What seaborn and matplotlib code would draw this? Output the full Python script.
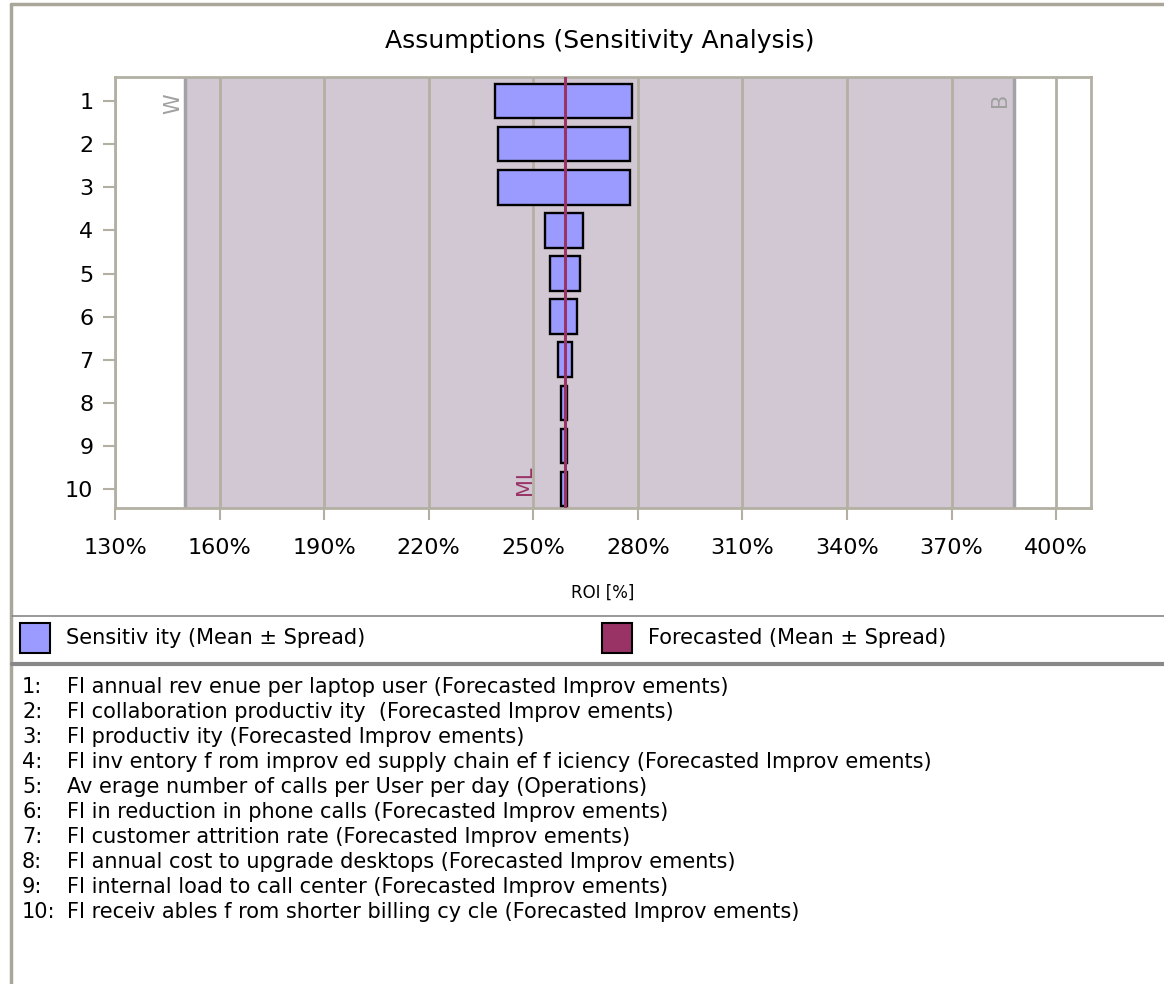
import numpy as np
import pandas as pd
import seaborn as sns
from matplotlib import pyplot as plt
from matplotlib.patches import Rectangle
from matplotlib.lines import Line2D

# sensitivity ranges (ROI %)
ranks = ['1', '2', '3', '4', '5', '6', '7', '8', '9', '10']
sens_low = [239.0, 240.0, 240.0, 253.4, 254.8, 254.8, 257.0, 257.9, 257.9, 257.9]
sens_high = [278.3, 277.7, 277.7, 264.2, 263.4, 262.6, 261.1, 259.8, 259.8, 259.8]
forecast_ml = 259.1
worst_case = 150.1
best_case = 388.0
x_ticks = [130, 160, 190, 220, 250, 280, 310, 340, 370, 400]

assumption_names = [
    'FI annual rev enue per laptop user (Forecasted Improv ements)',
    'FI collaboration productiv ity  (Forecasted Improv ements)',
    'FI productiv ity (Forecasted Improv ements)',
    'FI inv entory f rom improv ed supply chain ef f iciency (Forecasted Improv ements)',
    'Av erage number of calls per User per day (Operations)',
    'FI in reduction in phone calls (Forecasted Improv ements)',
    'FI customer attrition rate (Forecasted Improv ements)',
    'FI annual cost to upgrade desktops (Forecasted Improv ements)',
    'FI internal load to call center (Forecasted Improv ements)',
    'FI receiv ables f rom shorter billing cy cle (Forecasted Improv ements)',
]

bar_color = '#9b9bff'
ml_color = '#993366'
region_color = '#d2c8d3'
grid_color = '#b3b0a3'
case_color = '#a2a2aa'
frame_color = '#aaa79a'

df = pd.DataFrame({'rank': ranks, 'low': sens_low, 'high': sens_high})
df['spread'] = df['high'] - df['low']

sns.set_theme(style='white')
plt.rcParams['font.family'] = ['DejaVu Sans']
plt.rcParams['text.color'] = 'black'

W, H = 1164, 984
fig = plt.figure(figsize=(W / 100, H / 100), dpi=100)
ax = fig.add_axes([115 / W, 1 - 508 / H, 976 / W, 431 / H])

# shaded worst..best band and its edges
ax.axvspan(worst_case, best_case, color=region_color, lw=0, zorder=0)
ax.axvline(worst_case, color=case_color, lw=2.5, zorder=1.5)
ax.axvline(best_case, color=case_color, lw=2.5, zorder=1.5)

# floating bars: seaborn hands 'left' through to barh
sns.barplot(data=df, x='spread', y='rank', orient='h', left=df['low'].to_numpy(),
            width=0.8, color=bar_color, saturation=1, edgecolor='black',
            linewidth=1.7, errorbar=None, ax=ax, zorder=3)

ax.axvline(forecast_ml, color=ml_color, lw=2.2, zorder=4)

ax.set_xlim(130, 410)
ax.set_ylim(9.44, -0.56)
ax.set_xticks(x_ticks)
ax.set_xticklabels([f'{t}%' for t in x_ticks])
ax.set_ylabel('')
ax.grid(axis='x', color=grid_color, lw=2, zorder=1)
ax.set_axisbelow(True)
for s in ax.spines.values():
    s.set_color(grid_color)
    s.set_linewidth(2)
ax.tick_params(axis='both', which='major', direction='out', length=8.6, width=1.5,
               color=grid_color, labelsize=16, labelcolor='black')
ax.tick_params(axis='x', pad=13, bottom=True)
ax.tick_params(axis='y', pad=7, left=True)

ax.set_xlabel('ROI [%]', fontsize=12, color='black')
ax.xaxis.set_label_coords(0.5, -0.197)
ax.xaxis.label.set_va('center')

ax.annotate('W', xy=(worst_case, 1), xycoords=('data', 'axes fraction'),
            xytext=(-2, -16), textcoords='offset pixels', ha='right', va='top',
            rotation=90, fontsize=15, color='#a0a0a0')
ax.annotate('B', xy=(best_case, 1), xycoords=('data', 'axes fraction'),
            xytext=(-4, -16), textcoords='offset pixels', ha='right', va='top',
            rotation=90, fontsize=15, color='#a0a0a0')
ax.annotate('ML', xy=(forecast_ml, 0), xycoords=('data', 'axes fraction'),
            xytext=(-30, 13), textcoords='offset pixels', ha='right', va='bottom',
            rotation=90, fontsize=15, color=ml_color)

fig.text(600 / W, 1 - 41 / H, 'Assumptions (Sensitivity Analysis)', ha='center',
         va='center', fontsize=18)

# outer frame and separators
fig.add_artist(Line2D([11 / W, 1], [1 - 4 / H, 1 - 4 / H], color=frame_color, lw=2.5))
fig.add_artist(Line2D([11 / W, 11 / W], [0, 1 - 4 / H], color=frame_color, lw=2.5))
fig.add_artist(Line2D([12 / W, 1], [1 - 616 / H, 1 - 616 / H], color='#888888', lw=1.2))
fig.add_artist(Line2D([12 / W, 1], [1 - 664 / H, 1 - 664 / H], color='#888888', lw=3))

# legend row
for x0, fc, label in [(20, bar_color, 'Sensitiv ity (Mean ± Spread)'),
                      (602, ml_color, 'Forecasted (Mean ± Spread)')]:
    fig.add_artist(Rectangle((x0 / W, 1 - 653 / H), 30 / W, 30 / H, facecolor=fc,
                             edgecolor='black', lw=1.5, transform=fig.transFigure))
    fig.text((x0 + 46) / W, 1 - 638 / H, label, ha='left', va='center', fontsize=15)

# numbered assumption list
for i, name in enumerate(assumption_names):
    y = 1 - (687 + 25 * i) / H
    fig.text(22 / W, y, f'{i + 1}:', ha='left', va='center', fontsize=15)
    fig.text(67 / W, y, name, ha='left', va='center', fontsize=15)

fig.savefig('out.png', dpi=100, facecolor='white')
